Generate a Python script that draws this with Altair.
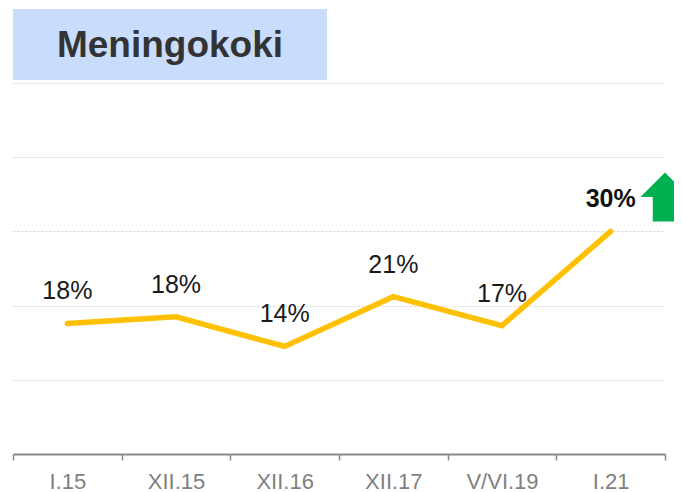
import altair as alt
import pandas as pd

categories = ["I.15", "XII.15", "XII.16", "XII.17", "V/VI.19", "I.21"]
values = [17.6, 18.5, 14.5, 21.2, 17.3, 30.0]
labels = ["18%", "18%", "14%", "21%", "17%", "30%"]
bold_flags = [False, False, False, False, False, True]

df = pd.DataFrame({"cat": categories, "val": values, "lab": labels, "bold": bold_flags})

x_enc = alt.X("cat:N", sort=None, title=None,
              scale=alt.Scale(paddingInner=0, paddingOuter=0),
              axis=alt.Axis(labelAngle=0, labelFontSize=22, labelColor="#7f7f7f",
                            labelFont="Liberation Sans", domainColor="#888888",
                            domainWidth=2, tickColor="#888888", tickWidth=1.5,
                            tickSize=6, labelPadding=11, grid=False,
                            tickBand="extent", bandPosition=0))
y_enc = alt.Y("val:Q", title=None,
              scale=alt.Scale(domain=[0, 50], nice=False),
              axis=alt.Axis(values=[10, 20, 30, 40, 50], labels=False, ticks=False,
                            domain=False, grid=True, gridColor="#d4d4d4",
                            gridDash=[2, 2], gridWidth=1))

base = alt.Chart(df).encode(x=x_enc, y=y_enc)

line = base.mark_line(color="#FFC000", strokeWidth=5.5, strokeCap="round", strokeJoin="miter")

text_normal = base.transform_filter("!datum.bold").mark_text(
    fontSize=25, font="Liberation Sans", color="#1a1a1a", baseline="alphabetic", dy=-24
).encode(text="lab:N")

text_bold = base.transform_filter("datum.bold").mark_text(
    fontSize=25, font="Liberation Sans", fontWeight="bold", color="#111111",
    baseline="alphabetic", dy=-24
).encode(text="lab:N")

title_box = alt.Chart(pd.DataFrame({"t": ["Meningokoki"]})).mark_rect(color="#CADCFC").encode(
    x=alt.value(0), x2=alt.value(314), y=alt.value(-74), y2=alt.value(-3))
title_text = alt.Chart(pd.DataFrame({"t": ["Meningokoki"]})).mark_text(
    fontSize=37, font="Liberation Sans", fontWeight="bold", color="#333333",
    baseline="alphabetic", align="center").encode(
    x=alt.value(157), y=alt.value(-26), text="t:N")

arrow_path = "M0,-1 L1,0 L0.5,0 L0.5,1 L-0.5,1 L-0.5,0 L-1,0 Z"
arrow = alt.Chart(pd.DataFrame({"a": [1]})).mark_point(
    shape=arrow_path, filled=True, color="#00B050", opacity=1, size=2401, strokeWidth=0
).encode(x=alt.value(652), y=alt.value(114))

chart = alt.layer(title_box, title_text, line, text_normal, text_bold, arrow).properties(
    width=652, height=371,
    padding={"left": 5, "top": 75, "right": 9, "bottom": 38},
    autosize=alt.AutoSizeParams(type="none"),
    background="white",
).configure_view(stroke=None)

chart.save("out.html", embed_options={"renderer": "svg", "actions": False})
